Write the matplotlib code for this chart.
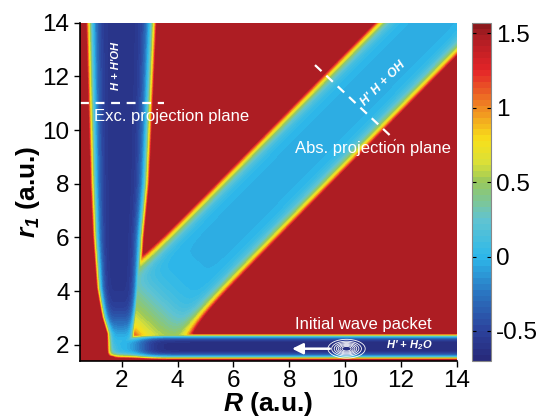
import numpy as np
import matplotlib
matplotlib.use("Agg")
import matplotlib.pyplot as plt
from matplotlib.colors import LinearSegmentedColormap

plt.rcParams['font.family'] = ['Liberation Sans', 'DejaVu Sans']
plt.rcParams['mathtext.fontset'] = 'custom'
plt.rcParams['mathtext.rm'] = 'Liberation Sans:bold:italic'
plt.rcParams['mathtext.it'] = 'Liberation Sans:bold:italic'
plt.rcParams['mathtext.bf'] = 'Liberation Sans:bold:italic'

# axis ranges and colour scale
R_lim = [0.5, 14.0]
r1_lim = [1.4, 14.0]
v_min, v_max = -0.7, 1.57
x_ticks = [2, 4, 6, 8, 10, 12, 14]
y_ticks = [2, 4, 6, 8, 10, 12, 14]
cbar_ticks = [-0.5, 0, 0.5, 1, 1.5]
cbar_labels = ['-0.5', '0', '0.5', '1', '1.5']

# H + H'OH channel (vertical), walls read at several r1
vert_r1 = [2.4, 3.0, 4.1, 6.0, 8.0, 14.0]
vert_left = [1.45, 1.3, 1.13, 1.0, 0.92, 0.78]
vert_right = [2.5, 2.55, 2.65, 2.76, 2.94, 3.19]
vert_floor = -0.6

# H' + H2O channel (horizontal)
horiz_center = 1.93
horiz_half = 0.46
horiz_floor = -0.65

# H'H + OH channel (diagonal), walls as r1 = slope * R + offset
diag_upper = (1.055, 2.2)
diag_lower = (1.06, -1.95)
diag_floor = -0.03

# interaction region (R + r1 where the diagonal floor rises)
junction_sum = 6.6
junction_rise = 0.7

# initial wave packet
packet_R, packet_r1 = 10.05, 1.85

# colour bar stops (value, colour)
cmap_vals = [-0.70, -0.50, -0.25, 0.00, 0.25, 0.50, 0.62, 0.78, 1.00, 1.25, 1.50, 1.57]
cmap_cols = ['#262878', '#2c429c', '#2a74c0', '#2db8ea', '#62c4d0', '#98c85c',
             '#d8e03a', '#f8e01a', '#f08a22', '#e42428', '#a61c22', '#84161a']

R = np.linspace(R_lim[0], R_lim[1], 700)
r1 = np.linspace(r1_lim[0], r1_lim[1], 700)
RR, rr = np.meshgrid(R, r1)

# vertical channel
left = np.interp(rr, vert_r1, vert_left)
right = np.interp(rr, vert_r1, vert_right)
xa = (RR - (left + right) / 2) / ((right - left) / 2)
floor_a = (vert_floor + 0.75 / (1 + np.exp((rr - 2.7) / 0.35))
           + 1.5 * np.exp(-(rr - 1.52) / 0.07))
va = floor_a + 1.5 * np.abs(xa) ** 5

# horizontal channel
xb = (rr - horiz_center) / horiz_half
floor_b = (horiz_floor + 0.7 / (1 + np.exp((RR - 2.7) / 0.25))
           + 1.5 * np.exp(-(RR - 1.6) / 0.07))
vb = floor_b + 1.55 * np.abs(xb) ** 4

# diagonal channel, widening into the interaction region
t = RR + rr
up = diag_upper[0] * RR + diag_upper[1]
lo = diag_lower[0] * RR + diag_lower[1]
half_c = (up - lo) / 2 * (1 + 0.18 * np.exp(-(np.clip(t, 6.4, None) - 7.0) / 1.0))
xc = (rr - (up + lo) / 2) / half_c
floor_c = (diag_floor + junction_rise / (1 + np.exp((t - junction_sum) / 0.7))
           + 0.17 * np.exp(-(t - 5.2) / 0.35))
vc = floor_c + 0.93 * np.abs(xc) ** 6

k = 0.04
stack = np.stack([va, vb, vc])
m = stack.min(axis=0)
V = m - k * np.log(np.exp(-(stack - m) / k).sum(axis=0))
V = np.clip(V, v_min, 1.49)

cmap = LinearSegmentedColormap.from_list(
    'pes', [((v - v_min) / (v_max - v_min), c) for v, c in zip(cmap_vals, cmap_cols)])

fig = plt.figure(figsize=(5.4, 4.2), dpi=100)
ax = fig.add_axes([0.148, 0.141, 0.698, 0.805])
cax = fig.add_axes([0.874, 0.141, 0.036, 0.805])

levels = np.linspace(v_min, v_max, 58)
cf = ax.contourf(RR, rr, V, levels=levels, cmap=cmap, vmin=v_min, vmax=v_max)

# wave packet
wp = np.exp(-((RR - packet_R) / 0.42) ** 2 - ((rr - packet_r1) / 0.22) ** 2)
ax.contour(RR, rr, wp, levels=[0.08, 0.2, 0.33, 0.47, 0.6, 0.73, 0.86],
           colors='white', linewidths=0.6)

ax.annotate('', xy=(8.0, 1.85), xytext=(9.55, 1.85),
            arrowprops=dict(arrowstyle='-|>', color='white', lw=1.8, mutation_scale=16))

# projection planes
ax.plot([0.5, 3.5], [11, 11], color='white', lw=1.6, ls=(0, (4, 3)))
ax.plot([8.92, 11.79], [12.42, 9.62], color='white', lw=1.6, ls=(0, (4, 3)))

ax.text(1.0, 10.5, 'Exc. projection plane', color='white', fontsize=12, va='center')
ax.text(8.2, 9.32, 'Abs. projection plane', color='white', fontsize=12, va='center')
ax.text(10.65, 2.76, 'Initial wave packet', color='white', fontsize=12, ha='center', va='center')
ax.text(1.78, 12.4, "H + H'OH", color='white', fontsize=8, fontweight='bold', style='italic',
        rotation=90, ha='center', va='center')
ax.text(11.35, 11.75, "H' H + OH", color='white', fontsize=9, fontweight='bold', style='italic',
        rotation=45, ha='center', va='center')
ax.text(12.3, 1.97, "H' + H$_2$O", color='white', fontsize=8, fontweight='bold',
        style='italic', ha='center', va='center')

ax.set_xlim(R_lim)
ax.set_ylim(r1_lim)
ax.set_xticks(x_ticks)
ax.set_yticks(y_ticks)
ax.tick_params(labelsize=17.5, direction='out', length=4, width=1)
ax.tick_params(axis='x', pad=2.5)
for s in ['top', 'right']:
    ax.spines[s].set_visible(False)
ax.spines['left'].set_linewidth(1.2)
ax.spines['bottom'].set_linewidth(1.2)
ax.set_xlabel(r'$R$ (a.u.)', fontsize=19, fontweight='bold', labelpad=-1)
ax.set_ylabel(r'$r_1$ (a.u.)', fontsize=19, fontweight='bold', labelpad=0)

cb = fig.colorbar(cf, cax=cax, ticks=cbar_ticks)
cb.ax.set_yticklabels(cbar_labels)
cb.ax.set_ylim(v_min, v_max)
cb.ax.tick_params(labelsize=17.5, direction='in', length=3, left=True, right=True)
cb.outline.set_edgecolor('#888888')
cb.outline.set_linewidth(0.8)

fig.savefig('out.png', dpi=100)
